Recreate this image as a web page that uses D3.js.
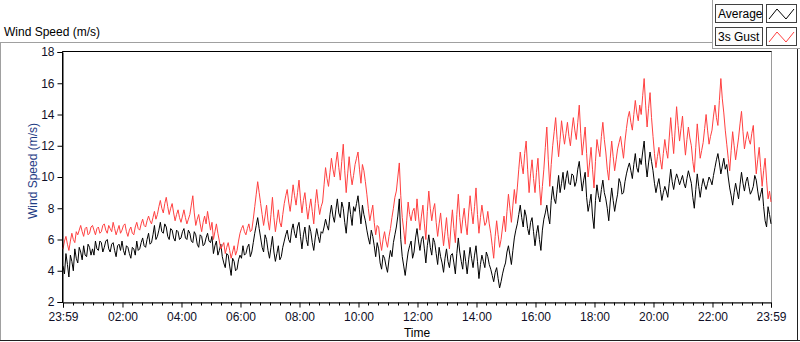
<!DOCTYPE html>
<html>
<head>
<meta charset="utf-8">
<script src="https://cdn.jsdelivr.net/npm/d3@7"></script>
<style>
  body { margin: 0; background: #fff; }
  svg { display: block; font-family: "Liberation Sans", Arial, sans-serif; }
</style>
</head>
<body>
<div id="wind-chart"></div>
<script>
// one reading every 3 minutes, starting 23:59 (one row per hour)
const sampleMinutes = 3;

const averageSpeed = [
  4.3, 3.8, 5.1, 4.4, 3.6, 5.0, 4.6, 4.0, 5.4, 4.8, 4.5, 5.5, 5.2, 4.7, 5.6, 5.0, 4.9, 5.7, 5.5, 5.0,
  5.4, 5.0, 5.9, 5.4, 5.3, 5.9, 5.8, 5.2, 5.5, 5.9, 6.0, 5.4, 5.2, 5.7, 5.8, 5.3, 4.9, 5.6, 5.7, 5.3,
  5.9, 5.3, 5.0, 5.6, 5.5, 5.1, 4.8, 5.5, 5.4, 5.0, 5.9, 5.3, 5.4, 5.8, 6.1, 5.6, 5.5, 6.0, 6.4, 5.7,
  5.8, 6.3, 6.9, 6.0, 6.2, 6.6, 7.1, 6.5, 6.4, 7.0, 6.8, 6.2, 6.0, 6.7, 6.6, 6.1, 5.9, 6.6, 6.5, 6.0,
  6.1, 6.5, 6.7, 6.1, 6.0, 6.6, 6.4, 5.9, 5.8, 6.5, 6.3, 5.7, 5.5, 6.3, 6.2, 5.6, 5.7, 6.1, 6.4, 5.9,
  5.8, 6.2, 5.1, 5.6, 5.9, 5.0, 5.3, 5.7, 4.9, 4.5, 4.2, 5.1, 5.0, 4.3, 3.7, 4.8, 4.6, 4.0, 4.1, 4.7,
  5.0, 4.8, 5.6, 5.0, 5.1, 5.5, 5.7, 4.9, 5.2, 5.8, 6.4, 6.9, 7.4, 6.7, 6.1, 5.5, 5.2, 6.3, 6.0, 5.3,
  4.8, 5.5, 6.2, 5.2, 4.6, 5.1, 5.6, 4.7, 4.9, 5.5, 5.9, 6.3, 6.6, 6.0, 5.8, 6.6, 7.0, 6.4, 6.1, 6.8,
  7.1, 6.2, 5.4, 6.3, 6.8, 6.0, 5.6, 6.9, 6.5, 5.8, 5.3, 6.1, 6.7, 6.2, 5.8, 6.5, 6.4, 6.8, 7.3, 6.9,
  6.6, 7.6, 8.2, 7.5, 7.1, 7.9, 8.6, 7.7, 7.4, 8.4, 8.0, 7.1, 6.4, 7.5, 8.4, 7.6, 6.9, 8.1, 7.8, 8.3,
  8.8, 7.9, 7.0, 8.2, 7.6, 7.2, 6.6, 6.1, 5.7, 6.6, 6.2, 5.6, 4.9, 5.8, 5.4, 4.5, 4.1, 5.0, 4.8, 4.3,
  3.9, 4.7, 5.3, 4.9, 5.8, 6.3, 6.8, 7.5, 8.6, 6.0, 4.9, 4.3, 3.7, 4.5, 5.2, 5.6, 5.9, 4.8, 5.2, 6.1,
  6.7, 5.9, 5.3, 6.0, 6.2, 5.4, 4.5, 5.6, 6.3, 5.5, 5.0, 6.1, 5.8, 5.1, 4.4, 5.5, 4.9, 4.5, 3.9, 4.8,
  5.4, 4.6, 4.2, 5.0, 5.1, 4.5, 3.8, 5.1, 6.1, 5.2, 4.6, 4.1, 5.3, 4.6, 3.8, 4.7, 5.5, 4.8, 4.2, 5.0,
  5.6, 4.6, 3.5, 4.4, 5.0, 4.6, 4.2, 5.2, 4.9, 4.4, 4.1, 3.7, 3.3, 3.9, 4.2, 3.5, 2.9, 3.3, 3.8, 4.2,
  4.5, 5.2, 5.6, 5.0, 4.4, 5.3, 6.1, 6.6, 7.0, 7.6, 8.2, 7.4, 6.8, 7.9, 7.5, 6.7, 6.3, 7.1, 7.4, 6.5,
  5.6, 6.4, 6.9, 6.0, 5.3, 6.6, 7.3, 7.7, 8.2, 7.5, 7.0, 8.5, 9.4, 8.6, 8.3, 9.2, 10.1, 9.0, 9.6, 10.3,
  9.2, 9.9, 10.4, 9.6, 9.5, 10.2, 10.1, 9.4, 9.7, 10.5, 11.0, 10.0, 9.1, 9.8, 10.3, 8.7, 7.8, 8.3, 8.9, 7.5,
  6.7, 8.5, 9.5, 8.8, 8.4, 9.2, 9.8, 9.0, 8.6, 8.0, 7.2, 8.4, 9.3, 8.5, 7.8, 8.4, 8.9, 9.9, 9.6, 8.9,
  9.0, 9.7, 10.2, 10.6, 10.9, 10.4, 9.9, 10.8, 11.5, 10.6, 10.3, 11.2, 10.8, 11.6, 12.3, 10.9, 10.0, 10.9, 11.6, 11.0,
  10.4, 9.6, 9.0, 9.5, 9.9, 9.2, 8.5, 9.0, 9.4, 9.1, 8.7, 9.6, 10.5, 9.7, 9.2, 9.8, 10.2, 9.9, 9.5, 9.8,
  10.1, 9.6, 9.3, 9.9, 10.4, 10.0, 9.6, 8.7, 8.0, 9.2, 10.2, 9.4, 8.7, 9.4, 9.9, 9.5, 9.2, 9.6, 10.0, 9.8,
  9.5, 10.1, 10.6, 11.1, 11.5, 10.9, 10.2, 10.7, 11.2, 10.5, 10.8, 10.0, 9.3, 8.8, 8.2, 9.0, 9.6, 9.1, 8.6, 9.5,
  10.3, 9.6, 9.1, 9.7, 10.0, 9.4, 8.9, 9.1, 9.4, 10.1, 9.8, 9.1, 8.5, 8.9, 9.3, 8.1, 7.2, 6.8, 8.1, 7.6,
  7.0
];

const gustSpeed = [
  5.4, 5.9, 6.2, 5.7, 5.3, 5.9, 6.4, 6.0, 5.8, 6.5, 6.3, 6.6, 6.9, 6.5, 6.2, 6.7, 6.8, 6.3, 6.4, 6.8,
  6.9, 6.6, 6.3, 6.7, 6.8, 6.4, 6.5, 6.9, 7.0, 6.6, 6.4, 6.9, 6.7, 6.5, 7.1, 6.7, 6.3, 6.6, 6.9, 6.4,
  6.6, 6.9, 7.0, 6.5, 6.2, 6.6, 6.8, 6.4, 6.3, 6.8, 7.1, 6.7, 6.6, 7.0, 7.3, 6.9, 6.8, 7.2, 7.5, 7.2,
  7.0, 7.4, 7.8, 7.3, 7.6, 8.1, 8.5, 8.0, 7.7, 8.3, 8.7, 8.1, 7.6, 8.0, 8.3, 7.7, 7.2, 7.6, 7.9, 7.4,
  7.1, 7.5, 7.9, 7.4, 7.0, 7.3, 7.6, 8.2, 8.8, 7.7, 6.9, 7.3, 7.6, 7.0, 6.5, 7.1, 7.5, 7.0, 7.8, 7.2,
  6.6, 7.1, 6.0, 6.5, 7.0, 6.4, 5.9, 5.4, 5.6, 5.8, 5.1, 5.5, 5.8, 5.3, 4.8, 5.2, 5.6, 5.0, 5.3, 5.9,
  6.4, 6.7, 6.9, 6.5, 6.3, 6.7, 7.0, 6.5, 6.6, 7.3, 8.1, 8.9, 9.7, 9.0, 8.3, 7.6, 6.9, 7.5, 8.2, 7.2,
  6.6, 7.6, 8.7, 7.4, 6.5, 7.2, 7.9, 7.1, 6.8, 7.6, 8.3, 8.8, 9.2, 8.4, 7.8, 8.6, 9.5, 8.8, 8.2, 9.0,
  9.8, 8.6, 7.7, 8.5, 9.0, 8.1, 7.3, 8.0, 8.6, 7.8, 7.0, 8.3, 9.2, 8.3, 7.6, 8.1, 8.4, 9.5, 10.6, 9.9,
  9.4, 10.3, 11.2, 10.5, 10.0, 10.9, 11.6, 10.6, 9.8, 11.0, 12.1, 10.4, 9.0, 10.2, 11.3, 10.2, 9.5, 10.1, 10.8, 11.2,
  11.6, 10.5, 9.6, 10.8, 10.4, 9.7, 8.9, 8.0, 7.2, 7.7, 8.2, 7.1, 6.3, 6.9, 6.8, 5.9, 5.3, 6.0, 6.5, 5.9,
  5.5, 6.2, 6.7, 7.4, 8.0, 8.7, 9.1, 10.0, 10.9, 8.8, 7.4, 6.6, 5.7, 7.2, 8.4, 7.6, 7.2, 7.8, 8.0, 7.2,
  8.6, 7.5, 6.6, 7.5, 8.2, 7.0, 6.0, 7.8, 9.1, 8.0, 7.2, 7.9, 8.3, 7.1, 6.2, 7.0, 7.7, 6.6, 5.6, 6.5,
  7.4, 6.2, 5.4, 6.8, 7.9, 6.7, 5.8, 7.6, 8.9, 7.4, 6.4, 7.3, 8.0, 7.0, 6.3, 7.7, 8.8, 7.8, 7.0, 8.1,
  9.3, 7.6, 6.4, 7.4, 8.2, 7.5, 6.9, 7.1, 7.8, 7.0, 6.4, 5.6, 4.8, 6.2, 7.2, 6.3, 5.5, 6.0, 6.8, 7.5,
  6.5, 7.8, 8.9, 8.0, 7.1, 8.2, 9.2, 8.3, 9.3, 10.5, 11.6, 10.8, 10.2, 11.5, 12.3, 10.5, 9.0, 10.2, 11.1, 9.9,
  9.0, 10.3, 11.2, 9.5, 8.2, 9.4, 10.5, 11.9, 13.2, 11.1, 9.4, 10.8, 12.0, 12.9, 13.8, 12.4, 11.3, 12.4, 13.6, 12.8,
  12.1, 12.8, 13.5, 12.6, 12.0, 13.0, 13.8, 13.0, 12.4, 13.5, 14.6, 12.8, 11.4, 12.3, 13.2, 11.5, 10.0, 10.9, 11.9, 10.5,
  9.3, 11.0, 12.4, 11.8, 11.3, 12.6, 13.5, 12.4, 11.6, 10.5, 9.8, 11.2, 12.3, 11.3, 10.4, 11.1, 11.8, 12.2, 12.6, 11.9,
  11.2, 12.3, 13.1, 13.8, 14.2, 13.5, 13.0, 14.0, 14.9, 14.1, 13.6, 14.6, 14.0, 15.2, 16.3, 14.6, 13.2, 14.4, 15.4, 13.8,
  12.6, 11.5, 10.6, 11.3, 11.9, 11.1, 10.5, 11.5, 12.4, 11.7, 11.2, 12.5, 13.8, 12.6, 11.5, 13.0, 14.5, 13.3, 12.3, 13.1,
  13.9, 12.5, 11.4, 12.4, 13.2, 12.5, 12.0, 11.0, 10.3, 11.9, 13.4, 12.3, 11.2, 11.7, 12.2, 13.1, 14.0, 13.0, 12.1, 12.6,
  13.0, 13.9, 14.6, 13.8, 13.3, 14.9, 16.3, 15.0, 14.1, 13.0, 12.1, 11.2, 10.4, 11.7, 12.9, 12.0, 11.1, 11.8, 12.5, 13.4,
  14.2, 12.9, 11.8, 12.4, 12.9, 12.4, 12.1, 12.8, 13.3, 11.6, 10.2, 11.1, 11.9, 10.6, 9.4, 10.4, 11.2, 9.8, 8.6, 9.1,
  8.4
];

const xTickLabels = ['23:59', '02:00', '04:00', '06:00', '08:00', '10:00', '12:00',
  '14:00', '16:00', '18:00', '20:00', '22:00', '23:59'];
const yTicks = [2, 4, 6, 8, 10, 12, 14, 16, 18];
const seriesNames = ['Average', '3s Gust'];
const seriesColors = ['#000000', '#ff4040'];

const width = 800;
const height = 342;
const plot = { left: 63, right: 771, top: 52, bottom: 302 };

const start = new Date(2020, 0, 1, 23, 59);
const end = d3.timeDay.offset(start, 1);
const times = averageSpeed.map((d, i) => d3.timeMinute.offset(start, i * sampleMinutes));

// tick label -> time on the axis (first one is the start, the rest are next day)
const xTickValues = xTickLabels.map((lab, i) => {
  if (i === 0) return start;
  if (i === xTickLabels.length - 1) return end;
  const [hh, mm] = lab.split(':').map(Number);
  return new Date(2020, 0, 2, hh, mm);
});
const minorTicks = d3.timeMinute.every(20).range(start, end)
  .filter(t => t.getMinutes() % 20 === 0 && !(t.getMinutes() === 0 && t.getHours() % 2 === 0));

const x = d3.scaleTime().domain([start, end]).range([plot.left, plot.right]);
const y = d3.scaleLinear().domain([2, 18]).range([plot.bottom, plot.top]);

const svg = d3.select('#wind-chart').append('svg')
  .attr('width', width)
  .attr('height', height);

// outer panel frame
svg.append('line').attr('x1', 0).attr('x2', 712).attr('y1', 42.5).attr('y2', 42.5).attr('stroke', '#a0a0a0');
svg.append('line').attr('x1', 0.5).attr('x2', 0.5).attr('y1', 42).attr('y2', 341).attr('stroke', '#a0a0a0');
svg.append('line').attr('x1', 0).attr('x2', 800).attr('y1', 340.5).attr('y2', 340.5).attr('stroke', '#202020');
svg.append('line').attr('x1', 797.5).attr('x2', 797.5).attr('y1', 48).attr('y2', 341).attr('stroke', '#202020');

svg.append('text')
  .attr('x', 4).attr('y', 36)
  .attr('font-size', 12)
  .attr('fill', '#000')
  .text('Wind Speed (m/s)');

// plot frame
svg.append('rect')
  .attr('x', plot.left - 0.5).attr('y', plot.top - 0.5)
  .attr('width', plot.right - plot.left + 1).attr('height', plot.bottom - plot.top + 1)
  .attr('fill', '#fff').attr('stroke', '#9a9a9a');
svg.append('path')
  .attr('d', `M${plot.left - 0.5},${plot.bottom + 0.5}V${plot.top - 0.5}H${plot.right + 0.5}`)
  .attr('fill', 'none').attr('stroke', '#000');

// series
const lineFor = d3.line()
  .x((d, i) => x(times[i]))
  .y(d => y(d));

[averageSpeed, gustSpeed].forEach((series, k) => {
  svg.append('path')
    .datum(series)
    .attr('fill', 'none')
    .attr('stroke', seriesColors[k])
    .attr('stroke-width', 1)
    .attr('d', lineFor);
});

// axes
const xAxis = svg.append('g')
  .attr('transform', `translate(0, ${plot.bottom + 0.5})`)
  .call(d3.axisBottom(x)
    .tickValues(xTickValues)
    .tickFormat((d, i) => xTickLabels[i])
    .tickSize(5)
    .tickPadding(5));
xAxis.select('.domain').attr('stroke', '#000');
xAxis.selectAll('text').attr('font-size', 12).attr('fill', '#101028').attr('font-family', null);

xAxis.selectAll('.minor')
  .data(minorTicks)
  .enter().append('line')
  .attr('class', 'minor')
  .attr('x1', d => Math.round(x(d)) + 0.5).attr('x2', d => Math.round(x(d)) + 0.5)
  .attr('y1', 0).attr('y2', 3)
  .attr('stroke', '#000');

const yAxis = svg.append('g')
  .attr('transform', `translate(${plot.left - 0.5}, 0)`)
  .call(d3.axisLeft(y)
    .tickValues(yTicks)
    .tickSize(5)
    .tickPadding(3));
yAxis.select('.domain').attr('stroke', '#000');
yAxis.selectAll('text').attr('font-size', 12).attr('fill', '#101028').attr('font-family', null);

svg.append('text')
  .attr('transform', `translate(37, ${(plot.top + plot.bottom) / 2 - 6}) rotate(-90)`)
  .attr('text-anchor', 'middle')
  .attr('font-size', 12)
  .attr('fill', '#1f3d85')
  .text('Wind Speed (m/s)');

svg.append('text')
  .attr('x', (plot.left + plot.right) / 2)
  .attr('y', 337)
  .attr('text-anchor', 'middle')
  .attr('font-size', 12)
  .attr('fill', '#000')
  .text('Time');

// legend panel
svg.append('line').attr('x1', 712.5).attr('x2', 712.5).attr('y1', 0).attr('y2', 49).attr('stroke', '#a0a0a0');
svg.append('line').attr('x1', 712).attr('x2', 800).attr('y1', 48.5).attr('y2', 48.5).attr('stroke', '#a0a0a0');

const legend = svg.append('g').selectAll('g')
  .data(seriesNames)
  .enter().append('g')
  .attr('transform', (d, i) => `translate(0, ${4 + i * 23})`);

legend.append('rect')
  .attr('x', 715.5).attr('y', 0.5).attr('width', 47).attr('height', 18)
  .attr('fill', '#fcfcfc').attr('stroke', '#404040');
legend.append('text')
  .attr('x', 718).attr('y', 14)
  .attr('font-size', 12)
  .attr('fill', '#000')
  .text(d => d);
legend.append('rect')
  .attr('x', 766.5).attr('y', 0.5).attr('width', 30).attr('height', 18)
  .attr('fill', '#fff').attr('stroke', '#404040');
legend.append('path')
  .attr('d', 'M769,15L777,5L786,15L794,5')
  .attr('fill', 'none')
  .attr('stroke', (d, i) => seriesColors[i]);
</script>
</body>
</html>
